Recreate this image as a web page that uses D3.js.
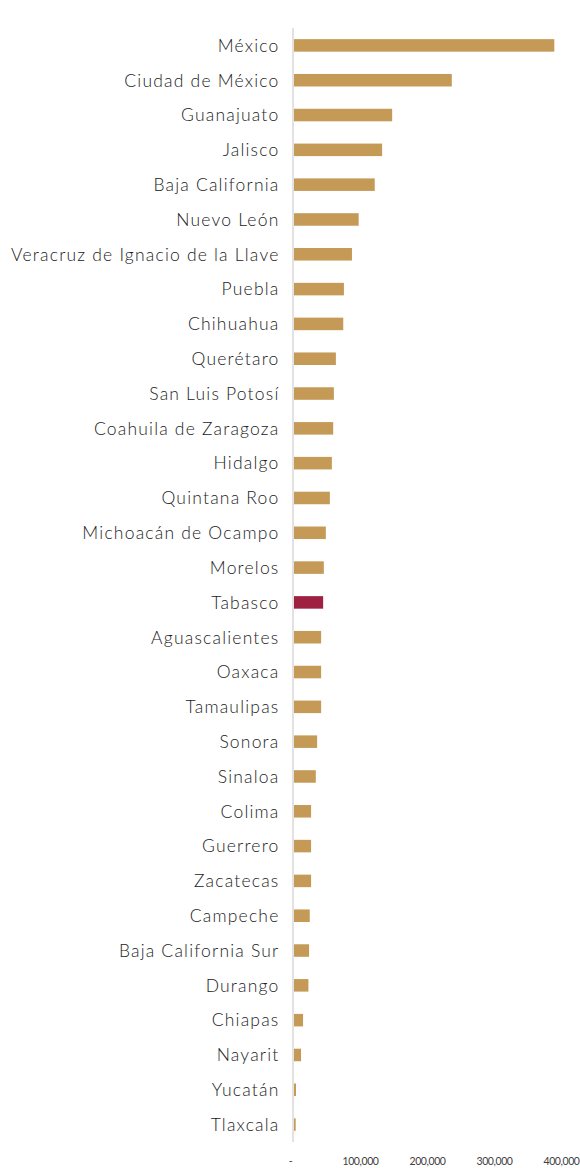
<!DOCTYPE html>
<html><head><meta charset="utf-8">
<script src="https://cdn.jsdelivr.net/npm/d3@7"></script>
<style>body{margin:0;background:#fff}svg{display:block}</style>
</head><body>
<svg id="c" width="580" height="1168"></svg>
<script>
const categories = ["México","Ciudad de México","Guanajuato","Jalisco","Baja California","Nuevo León","Veracruz de Ignacio de la Llave","Puebla","Chihuahua","Querétaro","San Luis Potosí","Coahuila de Zaragoza","Hidalgo","Quintana Roo","Michoacán de Ocampo","Morelos","Tabasco","Aguascalientes","Oaxaca","Tamaulipas","Sonora","Sinaloa","Colima","Guerrero","Zacatecas","Campeche","Baja California Sur","Durango","Chiapas","Nayarit","Yucatán","Tlaxcala"];
const values = [390000,237000,148000,133000,122000,98000,88000,76000,75000,64000,61000,60000,58000,55000,49000,46000,45000,42000,42000,42000,36000,34000,27000,27000,27000,25000,24000,23000,15000,12000,4500,4000];
const highlight = "Tabasco";
const tickValues = [0,100000,200000,300000,400000];
const tickLabels = ["-","100,000","200,000","300,000","400,000"];

(function(){
const svg = d3.select("#c");
const x0 = 293, plotTop = 28, plotBottom = 1142;
const x = d3.scaleLinear().domain([0,100000]).range([x0, x0+67]);
const y = d3.scaleBand().domain(categories).range([plotTop,plotBottom]).paddingInner(0.64).paddingOuter(0.32);

svg.append("line").attr("x1",x0).attr("x2",x0).attr("y1",plotTop).attr("y2",plotBottom)
  .attr("stroke","#d9d9d9").attr("stroke-width",1.5);

svg.selectAll("rect.bar").data(categories).join("rect")
  .attr("class","bar")
  .attr("x", x(0)+1)
  .attr("y", d=>y(d))
  .attr("width", (d,i)=>Math.max(0, x(values[i])-x(0)-1))
  .attr("height", y.bandwidth())
  .attr("fill", d=> d===highlight ? "#9f2142" : "#c59a56");

svg.selectAll("text.cat").data(categories).join("text")
  .attr("class","cat")
  .attr("x", 279.5)
  .attr("y", d=>y(d)+y.bandwidth()/2)
  .attr("dy","0.36em")
  .attr("text-anchor","end")
  .attr("font-family","Lato, sans-serif")
  .attr("font-weight",300)
  .attr("font-size",17.5)
  .attr("letter-spacing","1.2px")
  .attr("fill","#222")
  .text(d=>d);

const axis = d3.axisBottom(x).tickValues(tickValues).tickFormat((d,i)=>tickLabels[i]).tickSize(0);
const g = svg.append("g").attr("transform",`translate(0,${1155})`).call(axis);
g.select(".domain").remove();
g.selectAll("text").attr("font-family","Lato, sans-serif").attr("font-size",10.5).attr("fill","#404040")
  .attr("letter-spacing","-0.4px");
g.selectAll(".tick").filter(d=>d===0).select("text").attr("dx",-3);
})();
</script>
</body></html>
